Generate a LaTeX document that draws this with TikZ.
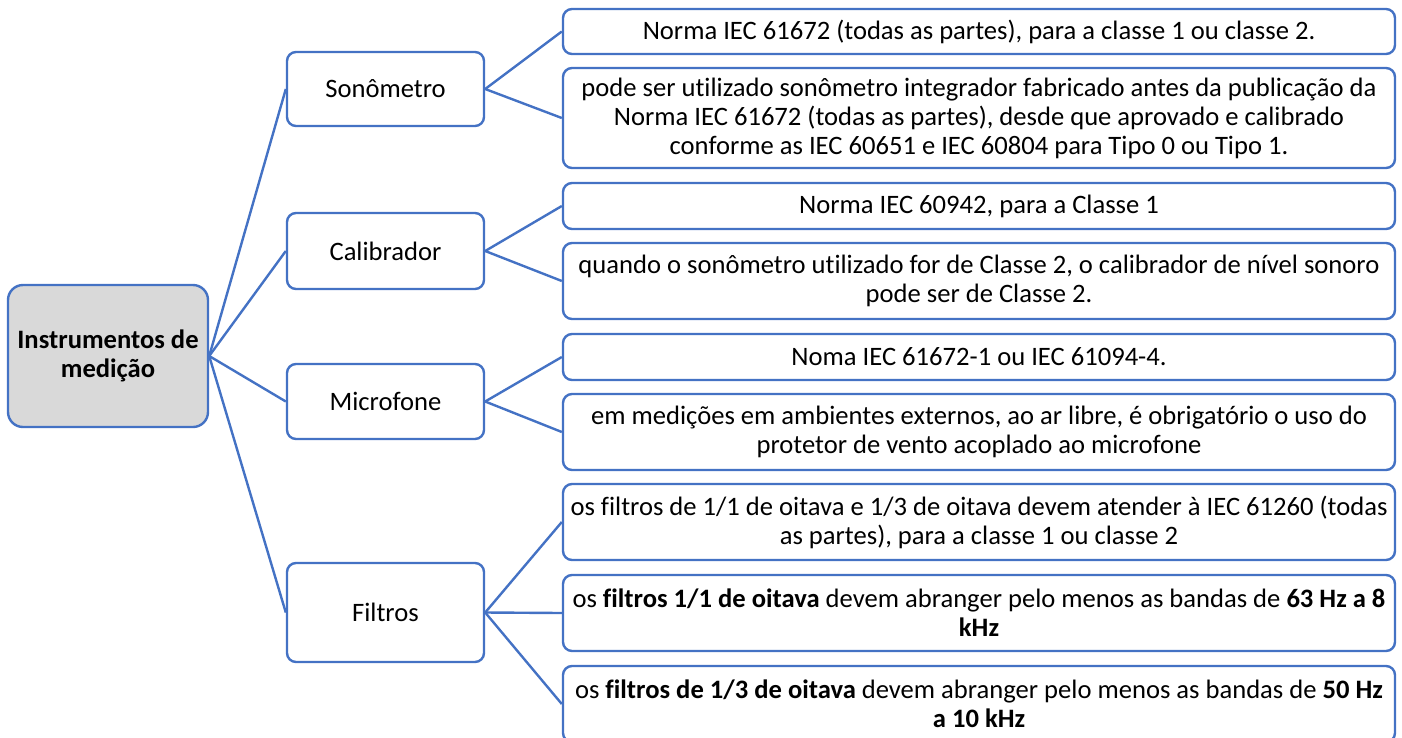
\documentclass[tikz,border=0pt]{standalone}
\usepackage{fontspec}
\setmainfont{Carlito}[Ligatures=CommonOff]
\definecolor{lineblue}{HTML}{4472C4}
\definecolor{rootgray}{HTML}{D9D9D9}
\begin{document}
\begin{tikzpicture}[x=1pt,y=-1pt,
  every node/.style={font=\fontsize{26.6}{29}\selectfont, text=black, inner sep=0pt, align=center},
  box/.style={draw=lineblue, line width=2.4pt, rounded corners=9pt, fill=white},
  rootbox/.style={box, fill=rootgray, rounded corners=15pt, minimum width=200pt, minimum height=142pt},
  lone/.style={box, minimum width=197pt},
  ltwo/.style={box, minimum width=832pt},
  conn/.style={draw=lineblue, line width=2.4pt}]
\useasboundingbox (0,0) rectangle (1402,737);

\node[rootbox] (root) at (108,356) {\textbf{Instrumentos de}\\\textbf{medição}};

\node[lone, minimum height=74pt] (son) at (385.5,89) {Sonômetro};
\node[lone, minimum height=76pt] (cal) at (385.5,251) {Calibrador};
\node[lone, minimum height=75pt] (mic) at (385.5,401.5) {Microfone};
\node[lone, minimum height=99pt] (fil) at (385.5,612.5) {Filtros};

\node[ltwo, minimum height=45pt] (n1) at (979,31.5) {Norma IEC 61672 (todas as partes), para a classe 1 ou classe 2.};
\node[ltwo, minimum height=100pt] (n2) at (979,118) {pode ser utilizado sonômetro integrador fabricado antes da publicação da\\Norma IEC 61672 (todas as partes), desde que aprovado e calibrado\\conforme as IEC 60651 e IEC 60804 para Tipo 0 ou Tipo 1.};
\node[ltwo, minimum height=46pt] (c1) at (979,206) {Norma IEC 60942, para a Classe 1};
\node[ltwo, minimum height=76pt] (c2) at (979,281) {quando o sonômetro utilizado for de Classe 2, o calibrador de nível sonoro\\pode ser de Classe 2.};
\node[ltwo, minimum height=46pt] (m1) at (979,357) {Noma IEC 61672-1 ou IEC 61094-4.};
\node[ltwo, minimum height=76pt] (m2) at (979,432) {em medições em ambientes externos, ao ar libre, é obrigatório o uso do\\protetor de vento acoplado ao microfone};
\node[ltwo, minimum height=76pt] (f1) at (979,522) {os filtros de 1/1 de oitava e 1/3 de oitava devem atender à IEC 61260 (todas\\as partes), para a classe 1 ou classe 2};
\node[ltwo, minimum height=76pt] (f2) at (979,613) {os \textbf{filtros 1/1 de oitava} devem abranger pelo menos as bandas de \textbf{63 Hz a 8}\\\textbf{kHz}};
\node[ltwo, minimum height=76pt] (f3) at (979,704) {os \textbf{filtros de 1/3 de oitava} devem abranger pelo menos as bandas de \textbf{50 Hz}\\\textbf{a 10 kHz}};

\draw[conn] (root.east) -- (son.west);
\draw[conn] (root.east) -- (cal.west);
\draw[conn] (root.east) -- (mic.west);
\draw[conn] (root.east) -- (fil.west);
\draw[conn] (son.east) -- (n1.west);
\draw[conn] (son.east) -- (n2.west);
\draw[conn] (cal.east) -- (c1.west);
\draw[conn] (cal.east) -- (c2.west);
\draw[conn] (mic.east) -- (m1.west);
\draw[conn] (mic.east) -- (m2.west);
\draw[conn] (fil.east) -- (f1.west);
\draw[conn] (fil.east) -- (f2.west);
\draw[conn] (fil.east) -- (f3.west);
\end{tikzpicture}
\end{document}
